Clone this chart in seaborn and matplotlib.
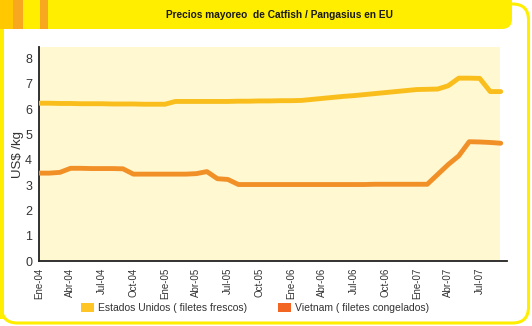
import numpy as np
import pandas as pd
import matplotlib
matplotlib.use("Agg")
import matplotlib.pyplot as plt
from matplotlib.patches import FancyBboxPatch, Rectangle, Patch
import seaborn as sns

# ---- data (monthly, Ene-04 .. Sep-07) ----
month_index = list(range(45))
us_values = [6.23, 6.23, 6.22, 6.22, 6.21, 6.21, 6.21, 6.20, 6.20, 6.20,
             6.19, 6.19, 6.19, 6.30, 6.30, 6.30, 6.30, 6.30, 6.30, 6.31,
             6.31, 6.32, 6.32, 6.33, 6.33, 6.34, 6.38, 6.42, 6.46, 6.50,
             6.53, 6.57, 6.61, 6.65, 6.69, 6.73, 6.77, 6.78, 6.79, 6.92,
             7.22, 7.22, 7.21, 6.69, 6.69]
vn_values = [3.47, 3.47, 3.50, 3.66, 3.66, 3.65, 3.65, 3.65, 3.64, 3.43,
             3.43, 3.43, 3.43, 3.43, 3.43, 3.45, 3.53, 3.25, 3.22, 3.02,
             3.02, 3.02, 3.02, 3.02, 3.02, 3.02, 3.02, 3.02, 3.02, 3.02,
             3.02, 3.02, 3.03, 3.03, 3.03, 3.03, 3.03, 3.03, 3.42, 3.81,
             4.15, 4.71, 4.70, 4.68, 4.65]
series_names = ["Estados Unidos ( filetes frescos)", "Vietnam ( filetes congelados)"]
tick_positions = list(range(0, 43, 3))
tick_labels = ["Ene-04", "Abr-04", "Jul-04", "Oct-04", "Ene-05", "Abr-05", "Jul-05",
               "Oct-05", "Ene-06", "Abr-06", "Jul-06", "Oct-06", "Ene-07", "Abr-07", "Jul-07"]
y_ticks = list(range(0, 9))
title = "Precios mayoreo  de Catfish / Pangasius en EU"

df = pd.concat([
    pd.DataFrame({"m": month_index, "v": us_values, "s": series_names[0]}),
    pd.DataFrame({"m": month_index, "v": vn_values, "s": series_names[1]}),
])

sns.set_theme(style="white")
plt.rcParams["font.family"] = ["Liberation Sans", "DejaVu Sans"]

W, H = 532, 326
fig = plt.figure(figsize=(W / 100, H / 100), dpi=100)
fig.patch.set_facecolor("white")

YEL = "#FFEE00"
# background frame axes (pixel coordinates)
bg = fig.add_axes([0, 0, 1, 1], zorder=0)
bg.set_xlim(0, W)
bg.set_ylim(H, 0)
bg.axis("off")
bg.add_patch(FancyBboxPatch((1.5, 4), W - 5, H - 7, boxstyle="round,pad=0,rounding_size=16",
                            facecolor="white", edgecolor=YEL, linewidth=2.2))
bg.add_patch(FancyBboxPatch((-30, -30), 542, 59, boxstyle="round,pad=0,rounding_size=10",
                            facecolor=YEL, edgecolor="none"))
bg.add_patch(Rectangle((0, 0), 13, 29, facecolor="#FFC800", edgecolor="none"))
bg.add_patch(Rectangle((13, 0), 10, 29, facecolor="#F7A81E", edgecolor="none"))
bg.add_patch(Rectangle((40, 0), 8, 29, facecolor="#F7A81E", edgecolor="none"))
bg.add_patch(Rectangle((0, 29), 3.5, 290, facecolor=YEL, edgecolor="none"))
bg.text(279, 15, title, ha="center", va="center", fontsize=7.3, fontweight="bold", color="#1a1a1a")

# main axes
ax = fig.add_axes([39 / W, 1 - 261 / H, (507 - 39) / W, (261 - 47) / H], zorder=1)
ax.set_facecolor("none")
ax.add_patch(Rectangle((0, 0), (500 - 39) / (507 - 39), 1, transform=ax.transAxes,
                       facecolor="#FFF8D0", edgecolor="none", zorder=0))

sns.lineplot(data=df, x="m", y="v", hue="s", palette=["#F9BE1C", "#F29028"],
             linewidth=3.5, ax=ax, legend=False, zorder=3)

ax.set_xlim(0, 44.6)
ax.set_ylim(0, 8.45)
ax.set_xticks(tick_positions)
ax.set_xticklabels(tick_labels, rotation=90, fontsize=7, color="#333333")
ax.set_yticks(y_ticks)
ax.set_yticklabels([str(t) for t in y_ticks], fontsize=9, color="#333333")
ax.tick_params(axis="both", direction="inout", length=6, width=1, color="#222222", pad=2)
for s in ["top", "right"]:
    ax.spines[s].set_visible(False)
for s in ["left", "bottom"]:
    ax.spines[s].set_color("#222222")
    ax.spines[s].set_linewidth(1.3)
ax.set_xlabel("")
ax.set_ylabel("US$ /kg", fontsize=9.5, color="#333333", labelpad=1)

handles = [Patch(facecolor="#FFC425", edgecolor="none"), Patch(facecolor="#F26522", edgecolor="none")]
fig.legend(handles, series_names, loc="center", bbox_to_anchor=(255 / W, 1 - 308 / H), ncol=2,
           frameon=False, fontsize=7.5, handlelength=1.25, handleheight=1.0, columnspacing=2.9,
           handletextpad=0.45, labelcolor="#333333")

fig.savefig("out.png", dpi=100)
